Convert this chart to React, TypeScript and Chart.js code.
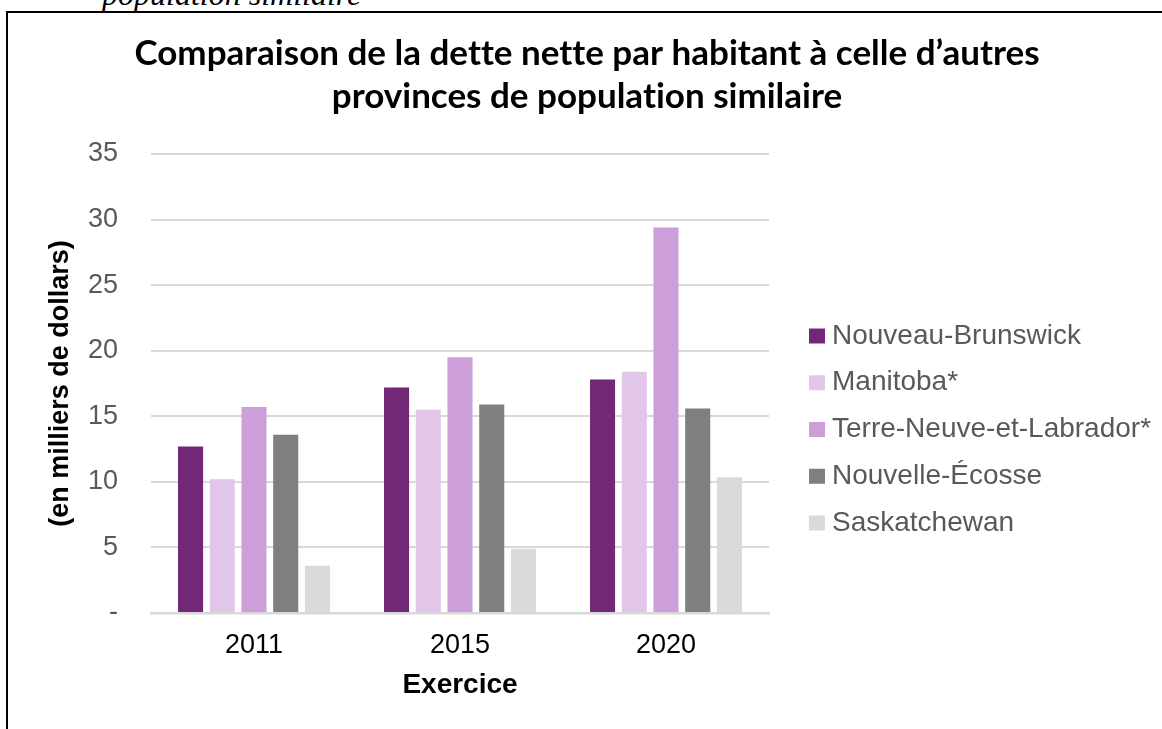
import React, { useEffect, useRef } from "react";
import { Chart, registerables, layouts } from "chart.js";

Chart.register(...registerables);

// ---------- data ----------
const categories = ["2011", "2015", "2020"];
const seriesNames = [
  "Nouveau-Brunswick",
  "Manitoba*",
  "Terre-Neuve-et-Labrador*",
  "Nouvelle-Écosse",
  "Saskatchewan",
];
const nouveauBrunswick = [12.7, 17.2, 17.8];
const manitoba = [10.2, 15.5, 18.4];
const terreNeuve = [15.7, 19.5, 29.4];
const nouvelleEcosse = [13.6, 15.9, 15.6];
const saskatchewan = [3.6, 4.9, 10.35];
const seriesValues = [nouveauBrunswick, manitoba, terreNeuve, nouvelleEcosse, saskatchewan];
const seriesColors = ["#722876", "#E2C6EA", "#CC9EDA", "#7F7F80", "#DADADA"];

const titleLines = [
  "Comparaison de la dette nette par habitant à celle d’autres",
  "provinces de population similaire",
];
const yAxisTitle = "(en milliers de dollars)";
const xAxisTitle = "Exercice";
const yMin = 0;
const yMax = 35;
const yStep = 5;
const headerText = "population similaire";

// ---------- style constants ----------
const W = 1162;
const H = 729;
const SANS = '"Liberation Sans", Arial, sans-serif';
const PAD_LEFT = 44;
const PAD_RIGHT = 32;
const LEGEND_BOX_WIDTH = 361;
const LEGEND_SWATCH_X = 40;
const LEGEND_TEXT_X = 63;
const LEGEND_FIRST_ROW = 182;
const LEGEND_ROW_GAP = 46.75;
const LEGEND_FONT = 28;
const Y_AXIS_WIDTH = 107;
const X_AXIS_HEIGHT = 90.8;

const noLigaturesPlugin = {
  id: "noLigatures",
  beforeDraw(chart: any) {
    try {
      chart.ctx.textRendering = "optimizeSpeed";
    } catch (e) {
      /* ignore */
    }
  },
};

const sideLegendPlugin = {
  id: "sideLegend",
  start(chart: any) {
    const box: any = {
      position: "right",
      weight: 1000,
      fullSize: false,
      options: {},
      left: 0,
      top: 0,
      right: 0,
      bottom: 0,
      width: 0,
      height: 0,
      isHorizontal() {
        return false;
      },
      update(_maxWidth: number, maxHeight: number) {
        this.width = LEGEND_BOX_WIDTH;
        this.height = maxHeight;
      },
      draw() {
        const ctx = chart.ctx;
        ctx.save();
        ctx.font = `${LEGEND_FONT}px ${SANS}`;
        ctx.textBaseline = "middle";
        ctx.textAlign = "left";
        chart.data.datasets.forEach((ds: any, i: number) => {
          const cy = this.top + LEGEND_FIRST_ROW + i * LEGEND_ROW_GAP;
          ctx.fillStyle = ds.backgroundColor;
          ctx.fillRect(this.left + LEGEND_SWATCH_X, cy - 7.5, 16, 15);
          ctx.fillStyle = "#595959";
          ctx.fillText(ds.label, this.left + LEGEND_TEXT_X, cy);
        });
        ctx.restore();
      },
    };
    chart.$sideLegend = box;
    layouts.addBox(chart, box);
  },
  stop(chart: any) {
    if (chart.$sideLegend) layouts.removeBox(chart, chart.$sideLegend);
  },
};

export default function App() {
  const canvasRef = useRef<HTMLCanvasElement | null>(null);

  useEffect(() => {
    const canvas = canvasRef.current;
    if (!canvas) return;
    const chart = new Chart(canvas, {
      type: "bar",
      data: {
        labels: categories,
        datasets: seriesNames.map((name, i) => ({
          label: name,
          data: seriesValues[i],
          backgroundColor: seriesColors[i],
          borderWidth: 0,
          categoryPercentage: 0.77,
          barPercentage: 0.79,
        })),
      },
      options: {
        responsive: false,
        animation: false,
        devicePixelRatio: 1,
        layout: { padding: { left: PAD_LEFT, right: PAD_RIGHT, top: 0, bottom: 25.2 } },
        plugins: {
          legend: { display: false },
          tooltip: { enabled: false },
          title: {
            display: true,
            text: titleLines,
            color: "#000",
            font: { family: '"Lato", "Open Sans", sans-serif', size: 35, weight: "bold", lineHeight: "43px" },
            padding: { top: 32.5, bottom: 35.5 },
          },
        },
        scales: {
          x: {
            grid: { display: false, drawTicks: false },
            border: { display: true, color: "#d9d9d9", width: 2.5 },
            ticks: { color: "#000", font: { family: SANS, size: 27 }, padding: 16 },
            title: {
              display: true,
              text: xAxisTitle,
              color: "#000",
              font: { family: SANS, size: 28, weight: "bold", lineHeight: 1.2 },
              padding: { top: 0, bottom: 2 },
            },
            afterFit: (scale: any) => {
              scale.height = X_AXIS_HEIGHT;
            },
          },
          y: {
            min: yMin,
            max: yMax,
            grid: { color: "#d9d9d9", lineWidth: 2, drawTicks: false },
            border: { display: false },
            ticks: {
              stepSize: yStep,
              color: "#595959",
              font: { family: SANS, size: 27 },
              padding: 33,
              callback: (v: any) => (Number(v) === 0 ? "-" : String(v)),
            },
            title: {
              display: true,
              text: yAxisTitle,
              color: "#000",
              font: { family: SANS, size: 27, weight: "bold", lineHeight: 1.2 },
              padding: { top: 0, bottom: 0 },
            },
            afterFit: (scale: any) => {
              scale.width = Y_AXIS_WIDTH;
            },
          },
        },
      },
      plugins: [noLigaturesPlugin as any, sideLegendPlugin as any],
    });
    return () => chart.destroy();
  }, []);

  return (
    <div style={{ position: "fixed", left: 0, top: 0, width: W, height: H, overflow: "hidden", background: "#fff" }}>
      <div
        style={{
          position: "absolute",
          left: 102,
          top: -22,
          fontFamily: '"Liberation Serif", "Times New Roman", serif',
          fontStyle: "italic",
          fontSize: 32,
          lineHeight: "32px",
          whiteSpace: "nowrap",
          color: "#000",
        }}
      >
        {headerText}
      </div>
      <div
        style={{
          position: "absolute",
          left: 6,
          top: 11,
          width: 2000,
          height: 2000,
          borderTop: "2px solid #000",
          borderLeft: "2px solid #000",
        }}
      />
      <canvas
        ref={canvasRef}
        width={W}
        height={H}
        style={{ position: "absolute", left: 0, top: 0, width: W, height: H, display: "block" }}
      />
    </div>
  );
}
